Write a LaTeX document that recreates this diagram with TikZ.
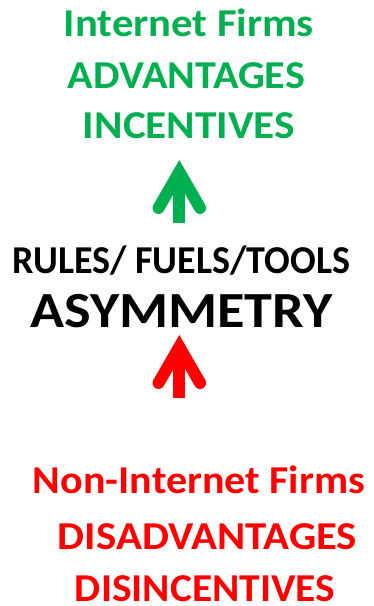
\documentclass[tikz,border=0pt]{standalone}
\usepackage{graphicx}
\usepackage{fontspec}
\setmainfont{Carlito}
\definecolor{upgreen}{RGB}{0,176,80}
\definecolor{downred}{RGB}{255,0,0}
\newcommand{\fitto}[2]{\resizebox{#1pt}{\height}{#2}}

\begin{document}
\begin{tikzpicture}[x=1pt,y=-1pt,
  every node/.style={inner sep=0pt,anchor=base},
  txt/.style={font=\bfseries\fontsize{39.5}{39.5}\selectfont},
  huge/.style={font=\bfseries\fontsize{50.6}{50.6}\selectfont},
  shaft/.style={line width=11.7pt},
  head/.style={line width=12pt,line cap=round,line join=miter}]
\useasboundingbox (0,0) rectangle (373,606);
  \node[txt,upgreen] (n1) at (189,36) {\fitto{250}{Internet Firms}};
  \node[txt,upgreen] (n2) at (186.5,88) {\fitto{237}{ADVANTAGES}};
  \node[txt,upgreen] (n3) at (189,138) {\fitto{212}{INCENTIVES}};
  \node[txt] (n4) at (181.5,273) {\fitto{337}{RULES/ FUELS/TOOLS}};
  \node[huge] (n5) at (181.5,327) {\fitto{302}{ASYMMETRY}};
  \node[txt,downred] (n6) at (199,493) {\fitto{332}{Non-Internet Firms}};
  \node[txt,downred] (n7) at (207.5,549) {\fitto{299}{DISADVANTAGES}};
  \node[txt,downred] (n8) at (205,601.5) {\fitto{260}{DISINCENTIVES}};

  \coordinate (g1) at (179.3,223);
  \coordinate (g2) at (179.3,172);
  \coordinate (r1) at (179.3,398);
  \coordinate (r2) at (179.3,347);

  \foreach \col/\from/\to in {upgreen/g1/g2,downred/r1/r2}
  {
    \draw[shaft,\col] (\from) -- (\to);
    \draw[head,\col] (\to) ++(-20.8,36) -- (\to) -- ++(20.8,36);
  }

\end{tikzpicture}
\end{document}
